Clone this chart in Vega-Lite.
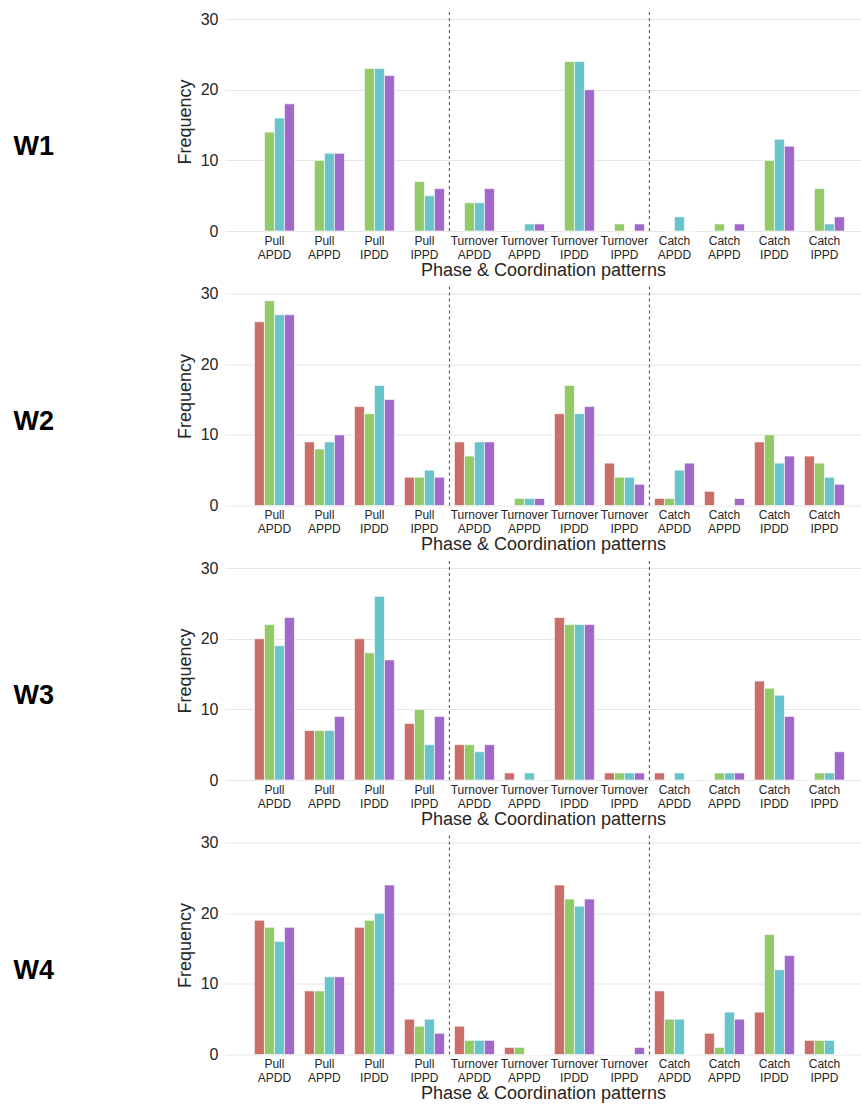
{
  "$schema": "https://vega.github.io/schema/vega-lite/v6.json",
  "padding": {"left": 13, "top": 11, "right": 0, "bottom": 0},
  "background": "white",
  "config": {
    "view": {"stroke": null},
    "font": "Liberation Sans",
    "title": {"orient": "left", "angle": 0, "align": "right", "baseline": "middle", "offset": 102, "dy": -11, "fontSize": 27, "fontWeight": "bold", "frame": "bounds", "anchor": "middle", "color": "#000000", "font": "Liberation Sans"},
    "axisY": {"grid": true, "gridColor": "#e6e6e6", "gridWidth": 1, "domain": false, "ticks": false, "labelFontSize": 16, "labelColor": "#262626", "labelPadding": 7, "titleFontSize": 18, "titleFontWeight": "normal", "titleColor": "#262626", "titlePadding": 6},
    "axisX": {"grid": false, "domain": false, "ticks": false, "labelAngle": 0, "labelFontSize": 12, "labelLineHeight": 14, "labelPadding": 4, "labelColor": "#262626", "titleFontSize": 18, "titleFontWeight": "normal", "titleColor": "#262626", "titlePadding": 1},
    "concat": {"spacing": 6.5}
  },
  "datasets": {
    "freq": [
      {"week": "W1", "cat": "Pull APDD", "s": "S2", "v": 14}, {"week": "W1", "cat": "Pull APDD", "s": "S3", "v": 16}, {"week": "W1", "cat": "Pull APDD", "s": "S4", "v": 18},
      {"week": "W1", "cat": "Pull APPD", "s": "S2", "v": 10}, {"week": "W1", "cat": "Pull APPD", "s": "S3", "v": 11}, {"week": "W1", "cat": "Pull APPD", "s": "S4", "v": 11},
      {"week": "W1", "cat": "Pull IPDD", "s": "S2", "v": 23}, {"week": "W1", "cat": "Pull IPDD", "s": "S3", "v": 23}, {"week": "W1", "cat": "Pull IPDD", "s": "S4", "v": 22},
      {"week": "W1", "cat": "Pull IPPD", "s": "S2", "v": 7}, {"week": "W1", "cat": "Pull IPPD", "s": "S3", "v": 5}, {"week": "W1", "cat": "Pull IPPD", "s": "S4", "v": 6},
      {"week": "W1", "cat": "Turnover APDD", "s": "S2", "v": 4}, {"week": "W1", "cat": "Turnover APDD", "s": "S3", "v": 4}, {"week": "W1", "cat": "Turnover APDD", "s": "S4", "v": 6},
      {"week": "W1", "cat": "Turnover APPD", "s": "S2", "v": 0}, {"week": "W1", "cat": "Turnover APPD", "s": "S3", "v": 1}, {"week": "W1", "cat": "Turnover APPD", "s": "S4", "v": 1},
      {"week": "W1", "cat": "Turnover IPDD", "s": "S2", "v": 24}, {"week": "W1", "cat": "Turnover IPDD", "s": "S3", "v": 24}, {"week": "W1", "cat": "Turnover IPDD", "s": "S4", "v": 20},
      {"week": "W1", "cat": "Turnover IPPD", "s": "S2", "v": 1}, {"week": "W1", "cat": "Turnover IPPD", "s": "S3", "v": 0}, {"week": "W1", "cat": "Turnover IPPD", "s": "S4", "v": 1},
      {"week": "W1", "cat": "Catch APDD", "s": "S2", "v": 0}, {"week": "W1", "cat": "Catch APDD", "s": "S3", "v": 2}, {"week": "W1", "cat": "Catch APDD", "s": "S4", "v": 0},
      {"week": "W1", "cat": "Catch APPD", "s": "S2", "v": 1}, {"week": "W1", "cat": "Catch APPD", "s": "S3", "v": 0}, {"week": "W1", "cat": "Catch APPD", "s": "S4", "v": 1},
      {"week": "W1", "cat": "Catch IPDD", "s": "S2", "v": 10}, {"week": "W1", "cat": "Catch IPDD", "s": "S3", "v": 13}, {"week": "W1", "cat": "Catch IPDD", "s": "S4", "v": 12},
      {"week": "W1", "cat": "Catch IPPD", "s": "S2", "v": 6}, {"week": "W1", "cat": "Catch IPPD", "s": "S3", "v": 1}, {"week": "W1", "cat": "Catch IPPD", "s": "S4", "v": 2},

      {"week": "W2", "cat": "Pull APDD", "s": "S1", "v": 26}, {"week": "W2", "cat": "Pull APDD", "s": "S2", "v": 29}, {"week": "W2", "cat": "Pull APDD", "s": "S3", "v": 27}, {"week": "W2", "cat": "Pull APDD", "s": "S4", "v": 27},
      {"week": "W2", "cat": "Pull APPD", "s": "S1", "v": 9}, {"week": "W2", "cat": "Pull APPD", "s": "S2", "v": 8}, {"week": "W2", "cat": "Pull APPD", "s": "S3", "v": 9}, {"week": "W2", "cat": "Pull APPD", "s": "S4", "v": 10},
      {"week": "W2", "cat": "Pull IPDD", "s": "S1", "v": 14}, {"week": "W2", "cat": "Pull IPDD", "s": "S2", "v": 13}, {"week": "W2", "cat": "Pull IPDD", "s": "S3", "v": 17}, {"week": "W2", "cat": "Pull IPDD", "s": "S4", "v": 15},
      {"week": "W2", "cat": "Pull IPPD", "s": "S1", "v": 4}, {"week": "W2", "cat": "Pull IPPD", "s": "S2", "v": 4}, {"week": "W2", "cat": "Pull IPPD", "s": "S3", "v": 5}, {"week": "W2", "cat": "Pull IPPD", "s": "S4", "v": 4},
      {"week": "W2", "cat": "Turnover APDD", "s": "S1", "v": 9}, {"week": "W2", "cat": "Turnover APDD", "s": "S2", "v": 7}, {"week": "W2", "cat": "Turnover APDD", "s": "S3", "v": 9}, {"week": "W2", "cat": "Turnover APDD", "s": "S4", "v": 9},
      {"week": "W2", "cat": "Turnover APPD", "s": "S1", "v": 0}, {"week": "W2", "cat": "Turnover APPD", "s": "S2", "v": 1}, {"week": "W2", "cat": "Turnover APPD", "s": "S3", "v": 1}, {"week": "W2", "cat": "Turnover APPD", "s": "S4", "v": 1},
      {"week": "W2", "cat": "Turnover IPDD", "s": "S1", "v": 13}, {"week": "W2", "cat": "Turnover IPDD", "s": "S2", "v": 17}, {"week": "W2", "cat": "Turnover IPDD", "s": "S3", "v": 13}, {"week": "W2", "cat": "Turnover IPDD", "s": "S4", "v": 14},
      {"week": "W2", "cat": "Turnover IPPD", "s": "S1", "v": 6}, {"week": "W2", "cat": "Turnover IPPD", "s": "S2", "v": 4}, {"week": "W2", "cat": "Turnover IPPD", "s": "S3", "v": 4}, {"week": "W2", "cat": "Turnover IPPD", "s": "S4", "v": 3},
      {"week": "W2", "cat": "Catch APDD", "s": "S1", "v": 1}, {"week": "W2", "cat": "Catch APDD", "s": "S2", "v": 1}, {"week": "W2", "cat": "Catch APDD", "s": "S3", "v": 5}, {"week": "W2", "cat": "Catch APDD", "s": "S4", "v": 6},
      {"week": "W2", "cat": "Catch APPD", "s": "S1", "v": 2}, {"week": "W2", "cat": "Catch APPD", "s": "S2", "v": 0}, {"week": "W2", "cat": "Catch APPD", "s": "S3", "v": 0}, {"week": "W2", "cat": "Catch APPD", "s": "S4", "v": 1},
      {"week": "W2", "cat": "Catch IPDD", "s": "S1", "v": 9}, {"week": "W2", "cat": "Catch IPDD", "s": "S2", "v": 10}, {"week": "W2", "cat": "Catch IPDD", "s": "S3", "v": 6}, {"week": "W2", "cat": "Catch IPDD", "s": "S4", "v": 7},
      {"week": "W2", "cat": "Catch IPPD", "s": "S1", "v": 7}, {"week": "W2", "cat": "Catch IPPD", "s": "S2", "v": 6}, {"week": "W2", "cat": "Catch IPPD", "s": "S3", "v": 4}, {"week": "W2", "cat": "Catch IPPD", "s": "S4", "v": 3},

      {"week": "W3", "cat": "Pull APDD", "s": "S1", "v": 20}, {"week": "W3", "cat": "Pull APDD", "s": "S2", "v": 22}, {"week": "W3", "cat": "Pull APDD", "s": "S3", "v": 19}, {"week": "W3", "cat": "Pull APDD", "s": "S4", "v": 23},
      {"week": "W3", "cat": "Pull APPD", "s": "S1", "v": 7}, {"week": "W3", "cat": "Pull APPD", "s": "S2", "v": 7}, {"week": "W3", "cat": "Pull APPD", "s": "S3", "v": 7}, {"week": "W3", "cat": "Pull APPD", "s": "S4", "v": 9},
      {"week": "W3", "cat": "Pull IPDD", "s": "S1", "v": 20}, {"week": "W3", "cat": "Pull IPDD", "s": "S2", "v": 18}, {"week": "W3", "cat": "Pull IPDD", "s": "S3", "v": 26}, {"week": "W3", "cat": "Pull IPDD", "s": "S4", "v": 17},
      {"week": "W3", "cat": "Pull IPPD", "s": "S1", "v": 8}, {"week": "W3", "cat": "Pull IPPD", "s": "S2", "v": 10}, {"week": "W3", "cat": "Pull IPPD", "s": "S3", "v": 5}, {"week": "W3", "cat": "Pull IPPD", "s": "S4", "v": 9},
      {"week": "W3", "cat": "Turnover APDD", "s": "S1", "v": 5}, {"week": "W3", "cat": "Turnover APDD", "s": "S2", "v": 5}, {"week": "W3", "cat": "Turnover APDD", "s": "S3", "v": 4}, {"week": "W3", "cat": "Turnover APDD", "s": "S4", "v": 5},
      {"week": "W3", "cat": "Turnover APPD", "s": "S1", "v": 1}, {"week": "W3", "cat": "Turnover APPD", "s": "S2", "v": 0}, {"week": "W3", "cat": "Turnover APPD", "s": "S3", "v": 1}, {"week": "W3", "cat": "Turnover APPD", "s": "S4", "v": 0},
      {"week": "W3", "cat": "Turnover IPDD", "s": "S1", "v": 23}, {"week": "W3", "cat": "Turnover IPDD", "s": "S2", "v": 22}, {"week": "W3", "cat": "Turnover IPDD", "s": "S3", "v": 22}, {"week": "W3", "cat": "Turnover IPDD", "s": "S4", "v": 22},
      {"week": "W3", "cat": "Turnover IPPD", "s": "S1", "v": 1}, {"week": "W3", "cat": "Turnover IPPD", "s": "S2", "v": 1}, {"week": "W3", "cat": "Turnover IPPD", "s": "S3", "v": 1}, {"week": "W3", "cat": "Turnover IPPD", "s": "S4", "v": 1},
      {"week": "W3", "cat": "Catch APDD", "s": "S1", "v": 1}, {"week": "W3", "cat": "Catch APDD", "s": "S2", "v": 0}, {"week": "W3", "cat": "Catch APDD", "s": "S3", "v": 1}, {"week": "W3", "cat": "Catch APDD", "s": "S4", "v": 0},
      {"week": "W3", "cat": "Catch APPD", "s": "S1", "v": 0}, {"week": "W3", "cat": "Catch APPD", "s": "S2", "v": 1}, {"week": "W3", "cat": "Catch APPD", "s": "S3", "v": 1}, {"week": "W3", "cat": "Catch APPD", "s": "S4", "v": 1},
      {"week": "W3", "cat": "Catch IPDD", "s": "S1", "v": 14}, {"week": "W3", "cat": "Catch IPDD", "s": "S2", "v": 13}, {"week": "W3", "cat": "Catch IPDD", "s": "S3", "v": 12}, {"week": "W3", "cat": "Catch IPDD", "s": "S4", "v": 9},
      {"week": "W3", "cat": "Catch IPPD", "s": "S1", "v": 0}, {"week": "W3", "cat": "Catch IPPD", "s": "S2", "v": 1}, {"week": "W3", "cat": "Catch IPPD", "s": "S3", "v": 1}, {"week": "W3", "cat": "Catch IPPD", "s": "S4", "v": 4},

      {"week": "W4", "cat": "Pull APDD", "s": "S1", "v": 19}, {"week": "W4", "cat": "Pull APDD", "s": "S2", "v": 18}, {"week": "W4", "cat": "Pull APDD", "s": "S3", "v": 16}, {"week": "W4", "cat": "Pull APDD", "s": "S4", "v": 18},
      {"week": "W4", "cat": "Pull APPD", "s": "S1", "v": 9}, {"week": "W4", "cat": "Pull APPD", "s": "S2", "v": 9}, {"week": "W4", "cat": "Pull APPD", "s": "S3", "v": 11}, {"week": "W4", "cat": "Pull APPD", "s": "S4", "v": 11},
      {"week": "W4", "cat": "Pull IPDD", "s": "S1", "v": 18}, {"week": "W4", "cat": "Pull IPDD", "s": "S2", "v": 19}, {"week": "W4", "cat": "Pull IPDD", "s": "S3", "v": 20}, {"week": "W4", "cat": "Pull IPDD", "s": "S4", "v": 24},
      {"week": "W4", "cat": "Pull IPPD", "s": "S1", "v": 5}, {"week": "W4", "cat": "Pull IPPD", "s": "S2", "v": 4}, {"week": "W4", "cat": "Pull IPPD", "s": "S3", "v": 5}, {"week": "W4", "cat": "Pull IPPD", "s": "S4", "v": 3},
      {"week": "W4", "cat": "Turnover APDD", "s": "S1", "v": 4}, {"week": "W4", "cat": "Turnover APDD", "s": "S2", "v": 2}, {"week": "W4", "cat": "Turnover APDD", "s": "S3", "v": 2}, {"week": "W4", "cat": "Turnover APDD", "s": "S4", "v": 2},
      {"week": "W4", "cat": "Turnover APPD", "s": "S1", "v": 1}, {"week": "W4", "cat": "Turnover APPD", "s": "S2", "v": 1}, {"week": "W4", "cat": "Turnover APPD", "s": "S3", "v": 0}, {"week": "W4", "cat": "Turnover APPD", "s": "S4", "v": 0},
      {"week": "W4", "cat": "Turnover IPDD", "s": "S1", "v": 24}, {"week": "W4", "cat": "Turnover IPDD", "s": "S2", "v": 22}, {"week": "W4", "cat": "Turnover IPDD", "s": "S3", "v": 21}, {"week": "W4", "cat": "Turnover IPDD", "s": "S4", "v": 22},
      {"week": "W4", "cat": "Turnover IPPD", "s": "S1", "v": 0}, {"week": "W4", "cat": "Turnover IPPD", "s": "S2", "v": 0}, {"week": "W4", "cat": "Turnover IPPD", "s": "S3", "v": 0}, {"week": "W4", "cat": "Turnover IPPD", "s": "S4", "v": 1},
      {"week": "W4", "cat": "Catch APDD", "s": "S1", "v": 9}, {"week": "W4", "cat": "Catch APDD", "s": "S2", "v": 5}, {"week": "W4", "cat": "Catch APDD", "s": "S3", "v": 5}, {"week": "W4", "cat": "Catch APDD", "s": "S4", "v": 0},
      {"week": "W4", "cat": "Catch APPD", "s": "S1", "v": 3}, {"week": "W4", "cat": "Catch APPD", "s": "S2", "v": 1}, {"week": "W4", "cat": "Catch APPD", "s": "S3", "v": 6}, {"week": "W4", "cat": "Catch APPD", "s": "S4", "v": 5},
      {"week": "W4", "cat": "Catch IPDD", "s": "S1", "v": 6}, {"week": "W4", "cat": "Catch IPDD", "s": "S2", "v": 17}, {"week": "W4", "cat": "Catch IPDD", "s": "S3", "v": 12}, {"week": "W4", "cat": "Catch IPDD", "s": "S4", "v": 14},
      {"week": "W4", "cat": "Catch IPPD", "s": "S1", "v": 2}, {"week": "W4", "cat": "Catch IPPD", "s": "S2", "v": 2}, {"week": "W4", "cat": "Catch IPPD", "s": "S3", "v": 2}, {"week": "W4", "cat": "Catch IPPD", "s": "S4", "v": 0}
    ],
    "dividers": [{"cat": "Turnover APDD"}, {"cat": "Catch APDD"}]
  },
  "vconcat": [
    {
      "title": {"text": "W1"},
      "width": 636, "height": 219,
      "layer": [
        {
          "data": {"name": "freq"},
          "transform": [{"filter": "datum.week == 'W1'"}],
          "mark": {"type": "bar", "stroke": "white", "strokeWidth": 0.8, "strokeOpacity": 0.8},
          "encoding": {
            "x": {"field": "cat", "type": "nominal", "title": "Phase & Coordination patterns", "scale": {"domain": ["Pull APDD", "Pull APPD", "Pull IPDD", "Pull IPPD", "Turnover APDD", "Turnover APPD", "Turnover IPDD", "Turnover IPPD", "Catch APDD", "Catch APPD", "Catch IPDD", "Catch IPPD"], "paddingInner": 0.2, "paddingOuter": 0.46, "align": 0.64, "round": false}, "axis": {"labelExpr": "split(datum.value, ' ')"}},
            "xOffset": {"field": "s", "type": "nominal", "scale": {"paddingInner": 0, "paddingOuter": 0}},
            "y": {"field": "v", "type": "quantitative", "title": "Frequency", "scale": {"domain": [0, 31], "nice": false}, "axis": {"values": [0, 10, 20, 30]}},
            "color": {"field": "s", "type": "nominal", "legend": null, "scale": {"domain": ["S1", "S2", "S3", "S4"], "range": ["#ca6e68", "#93ca68", "#68c4ca", "#9f68ca"]}}
          }
        },
        {
          "data": {"name": "dividers"},
          "mark": {"type": "rule", "color": "#666666", "strokeDash": [3, 3], "strokeWidth": 1.2},
          "encoding": {"x": {"field": "cat", "type": "nominal", "bandPosition": -0.125}}
        }
      ]
    },
    {
      "title": {"text": "W2"},
      "width": 636, "height": 219,
      "layer": [
        {
          "data": {"name": "freq"},
          "transform": [{"filter": "datum.week == 'W2'"}],
          "mark": {"type": "bar", "stroke": "white", "strokeWidth": 0.8, "strokeOpacity": 0.8},
          "encoding": {
            "x": {"field": "cat", "type": "nominal", "title": "Phase & Coordination patterns", "scale": {"domain": ["Pull APDD", "Pull APPD", "Pull IPDD", "Pull IPPD", "Turnover APDD", "Turnover APPD", "Turnover IPDD", "Turnover IPPD", "Catch APDD", "Catch APPD", "Catch IPDD", "Catch IPPD"], "paddingInner": 0.2, "paddingOuter": 0.46, "align": 0.64, "round": false}, "axis": {"labelExpr": "split(datum.value, ' ')"}},
            "xOffset": {"field": "s", "type": "nominal", "scale": {"paddingInner": 0, "paddingOuter": 0}},
            "y": {"field": "v", "type": "quantitative", "title": "Frequency", "scale": {"domain": [0, 31], "nice": false}, "axis": {"values": [0, 10, 20, 30]}},
            "color": {"field": "s", "type": "nominal", "legend": null, "scale": {"domain": ["S1", "S2", "S3", "S4"], "range": ["#ca6e68", "#93ca68", "#68c4ca", "#9f68ca"]}}
          }
        },
        {
          "data": {"name": "dividers"},
          "mark": {"type": "rule", "color": "#666666", "strokeDash": [3, 3], "strokeWidth": 1.2},
          "encoding": {"x": {"field": "cat", "type": "nominal", "bandPosition": -0.125}}
        }
      ]
    },
    {
      "title": {"text": "W3"},
      "width": 636, "height": 219,
      "layer": [
        {
          "data": {"name": "freq"},
          "transform": [{"filter": "datum.week == 'W3'"}],
          "mark": {"type": "bar", "stroke": "white", "strokeWidth": 0.8, "strokeOpacity": 0.8},
          "encoding": {
            "x": {"field": "cat", "type": "nominal", "title": "Phase & Coordination patterns", "scale": {"domain": ["Pull APDD", "Pull APPD", "Pull IPDD", "Pull IPPD", "Turnover APDD", "Turnover APPD", "Turnover IPDD", "Turnover IPPD", "Catch APDD", "Catch APPD", "Catch IPDD", "Catch IPPD"], "paddingInner": 0.2, "paddingOuter": 0.46, "align": 0.64, "round": false}, "axis": {"labelExpr": "split(datum.value, ' ')"}},
            "xOffset": {"field": "s", "type": "nominal", "scale": {"paddingInner": 0, "paddingOuter": 0}},
            "y": {"field": "v", "type": "quantitative", "title": "Frequency", "scale": {"domain": [0, 31], "nice": false}, "axis": {"values": [0, 10, 20, 30]}},
            "color": {"field": "s", "type": "nominal", "legend": null, "scale": {"domain": ["S1", "S2", "S3", "S4"], "range": ["#ca6e68", "#93ca68", "#68c4ca", "#9f68ca"]}}
          }
        },
        {
          "data": {"name": "dividers"},
          "mark": {"type": "rule", "color": "#666666", "strokeDash": [3, 3], "strokeWidth": 1.2},
          "encoding": {"x": {"field": "cat", "type": "nominal", "bandPosition": -0.125}}
        }
      ]
    },
    {
      "title": {"text": "W4"},
      "width": 636, "height": 219,
      "layer": [
        {
          "data": {"name": "freq"},
          "transform": [{"filter": "datum.week == 'W4'"}],
          "mark": {"type": "bar", "stroke": "white", "strokeWidth": 0.8, "strokeOpacity": 0.8},
          "encoding": {
            "x": {"field": "cat", "type": "nominal", "title": "Phase & Coordination patterns", "scale": {"domain": ["Pull APDD", "Pull APPD", "Pull IPDD", "Pull IPPD", "Turnover APDD", "Turnover APPD", "Turnover IPDD", "Turnover IPPD", "Catch APDD", "Catch APPD", "Catch IPDD", "Catch IPPD"], "paddingInner": 0.2, "paddingOuter": 0.46, "align": 0.64, "round": false}, "axis": {"labelExpr": "split(datum.value, ' ')"}},
            "xOffset": {"field": "s", "type": "nominal", "scale": {"paddingInner": 0, "paddingOuter": 0}},
            "y": {"field": "v", "type": "quantitative", "title": "Frequency", "scale": {"domain": [0, 31], "nice": false}, "axis": {"values": [0, 10, 20, 30]}},
            "color": {"field": "s", "type": "nominal", "legend": null, "scale": {"domain": ["S1", "S2", "S3", "S4"], "range": ["#ca6e68", "#93ca68", "#68c4ca", "#9f68ca"]}}
          }
        },
        {
          "data": {"name": "dividers"},
          "mark": {"type": "rule", "color": "#666666", "strokeDash": [3, 3], "strokeWidth": 1.2},
          "encoding": {"x": {"field": "cat", "type": "nominal", "bandPosition": -0.125}}
        }
      ]
    }
  ]
}
